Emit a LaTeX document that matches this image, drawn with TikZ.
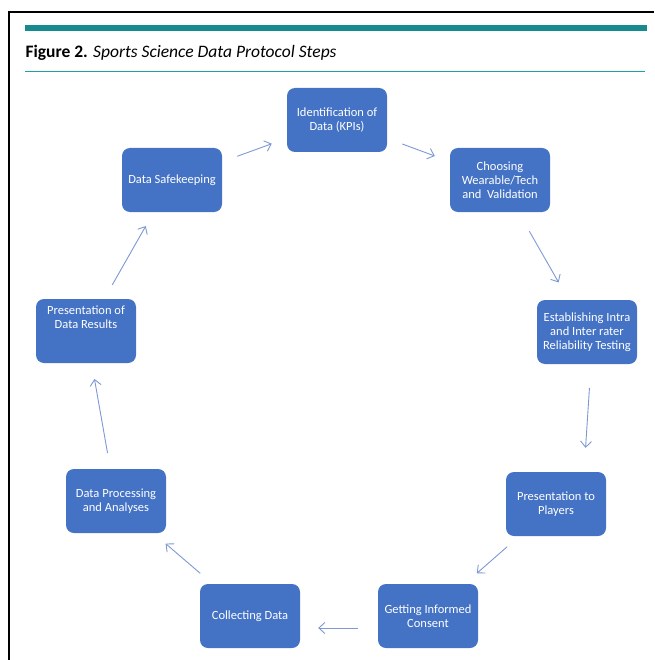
\documentclass[tikz,border=0pt]{standalone}
\usepackage{fontspec}
\setmainfont{Carlito}
\usetikzlibrary{arrows.meta}
\definecolor{stepblue}{RGB}{68,114,196}
\definecolor{arrowblue}{RGB}{126,152,212}
\definecolor{tealbar}{RGB}{22,138,143}
\definecolor{tealline}{RGB}{30,160,170}
\tikzset{
    stepbox/.style={draw=none,fill=stepblue,rounded corners=8pt,minimum width=100pt,minimum height=64pt,text=white,align=center,font=\fontsize{12.5}{14}\selectfont},
    cyclearrow/.style={draw=arrowblue,line width=0.9pt,-{Straight Barb[length=6pt,width=11pt]},shorten <=16pt,shorten >=16pt}
}
\begin{document}
\begin{tikzpicture}[x=1pt,y=-1pt]
                \useasboundingbox (0,0) rectangle (654,660);
                \draw[line width=1.4pt] (9,660) -- (9,12) -- (654,12);
                \fill[tealbar] (25,25.5) rectangle (647,31);
                \draw[tealline,line width=1.3pt] (25,71.5) -- (645,71.5);
                \node[anchor=base west,font=\fontsize{17.5}{20}\selectfont] (title) at (22,57.5) {\textbf{Figure 2.} \textit{Sports Science Data Protocol Steps}};
                \node[stepbox] (kpi) at (337,120) {Identification of\\Data (KPIs)};
                \node[stepbox] (wear) at (500,180) {Choosing\\Wearable/Tech\\and\ \ Validation};
                \node[stepbox] (rel) at (587,332) {Establishing Intra\\and Inter rater\\Reliability Testing};
                \node[stepbox] (pres) at (556,504) {Presentation to\\Players};
                \node[stepbox] (cons) at (428,616) {Getting Informed\\Consent};
                \node[stepbox] (coll) at (250,616) {Collecting Data};
                \node[stepbox] (proc) at (116,501) {Data Processing\\and Analyses};
                \node[stepbox] (res) at (86,331) {Presentation of\\Data Results\\[14pt]};
                \node[stepbox] (safe) at (172,180) {Data Safekeeping};
                \draw[cyclearrow] (safe) -- (kpi);
                \draw[cyclearrow] (kpi) -- (wear);
                \draw[cyclearrow,shorten <=22pt,shorten >=20pt] (wear) -- (rel);
                \draw[cyclearrow,shorten <=24pt,shorten >=24pt] ([xshift=4pt]rel.south) -- ([xshift=28pt]pres.north);
                \draw[cyclearrow] (pres) -- (cons);
                \draw[cyclearrow,shorten <=20pt,shorten >=18pt] ([yshift=-12pt]cons.west) -- ([yshift=-12pt]coll.east);
                \draw[cyclearrow] (coll) -- (proc);
                \draw[cyclearrow] (proc) -- (res);
                \draw[cyclearrow] (res) -- (safe);
            \end{tikzpicture}
\end{document}
